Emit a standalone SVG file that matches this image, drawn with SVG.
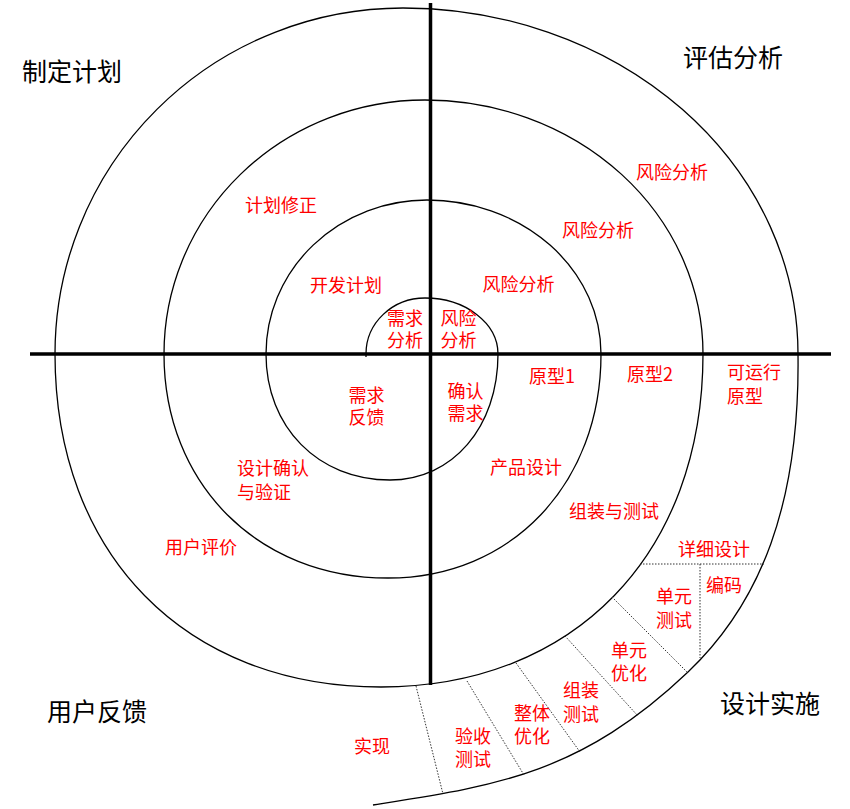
<svg xmlns="http://www.w3.org/2000/svg" width="850" height="809" viewBox="0 0 850 809">
<style>
.r{font-family:"Noto Sans CJK SC","Noto Sans",sans-serif;font-size:18px;fill:#ff0000;text-anchor:middle}
.rl{text-anchor:start}
.b{font-family:"Noto Sans CJK SC","Noto Sans",sans-serif;font-size:25px;fill:#000;text-anchor:middle}
.axis{stroke:#000;stroke-width:3.5;fill:none}
.sp{stroke:#000;stroke-width:1.3;fill:none}
.dot{stroke:#333;stroke-width:1;stroke-dasharray:1.5 1.5;fill:none}
</style>
<rect width="850" height="809" fill="#fff"/>
<g id="connectors">
<path class="sp" d="M366,357 L366,354 A59,56 0 0 1 425,298 A73,56 0 0 1 498,354 C498,427 452.6,480 390,480 C318,480 266,427 266,354 A161,154 0 0 1 427,200 A174,154 0 0 1 601,354 C601,484 511.5,578 388,578 C258,578 164,484 164,354 A261,254 0 0 1 425,100 A278,254 0 0 1 703,354 C703,554 574,687 381,687 C185,687 55,554 55,354 A348,346 0 0 1 403,8 A395,346 0 0 1 798,354 C800,504 760.5,603.1 688,672 C579.25,775.35 493,786.2 373,805"/>
<line class="axis" x1="30" y1="354" x2="831" y2="354"/>
<line class="axis" x1="430.5" y1="3" x2="430.5" y2="685"/>
<line class="dot" x1="640" y1="564" x2="764" y2="564"/>
<line class="dot" x1="700" y1="564" x2="700" y2="658"/>
<line class="dot" x1="612" y1="597" x2="688" y2="673"/>
<line class="dot" x1="565" y1="636" x2="638" y2="716"/>
<line class="dot" x1="516" y1="663" x2="580" y2="752"/>
<line class="dot" x1="467" y1="681" x2="524" y2="775"/>
<line class="dot" x1="416" y1="686" x2="443" y2="794"/>
</g>
<g id="q-plan"><text class="b" x="72" y="81">制定计划</text></g>
<g id="q-eval"><text class="b" x="733" y="67">评估分析</text></g>
<g id="q-feedback"><text class="b" x="97" y="721">用户反馈</text></g>
<g id="q-impl"><text class="b" x="770" y="713">设计实施</text></g>
<g id="risk3"><text class="r" x="672" y="179">风险分析</text></g>
<g id="plan-fix"><text class="r" x="281" y="212">计划修正</text></g>
<g id="risk2"><text class="r" x="598" y="237">风险分析</text></g>
<g id="dev-plan"><text class="r" x="346" y="292">开发计划</text></g>
<g id="risk1"><text class="r" x="518.5" y="291">风险分析</text></g>
<g id="req-analysis"><text class="r" x="405" y="325">需求</text><text class="r" x="405" y="347">分析</text></g>
<g id="risk0"><text class="r" x="458.5" y="325">风险</text><text class="r" x="458.5" y="347">分析</text></g>
<g id="req-feedback"><text class="r" x="366.5" y="401.5">需求</text><text class="r" x="366.5" y="423.5">反馈</text></g>
<g id="req-confirm"><text class="r" x="465.5" y="398">确认</text><text class="r" x="465.5" y="420">需求</text></g>
<g id="proto1"><text class="r" x="552" y="383">原型1</text></g>
<g id="proto2"><text class="r" x="650" y="381">原型2</text></g>
<g id="proto-run"><text class="r rl" x="727" y="379">可运行</text><text class="r rl" x="727" y="403">原型</text></g>
<g id="product-design"><text class="r" x="526" y="474">产品设计</text></g>
<g id="assemble-test"><text class="r" x="614" y="518">组装与测试</text></g>
<g id="design-verify"><text class="r rl" x="237" y="475">设计确认</text><text class="r rl" x="237" y="499">与验证</text></g>
<g id="user-eval"><text class="r" x="201" y="554">用户评价</text></g>
<g id="detail-design"><text class="r" x="714" y="556">详细设计</text></g>
<g id="coding"><text class="r" x="724" y="592">编码</text></g>
<g id="unit-test"><text class="r" x="674" y="603">单元</text><text class="r" x="674" y="627">测试</text></g>
<g id="unit-opt"><text class="r" x="629" y="657">单元</text><text class="r" x="629" y="680">优化</text></g>
<g id="asm-test"><text class="r" x="581" y="697">组装</text><text class="r" x="581" y="721">测试</text></g>
<g id="whole-opt"><text class="r" x="532" y="720">整体</text><text class="r" x="532" y="743">优化</text></g>
<g id="accept-test"><text class="r" x="473" y="743">验收</text><text class="r" x="473" y="766">测试</text></g>
<g id="realize"><text class="r" x="372" y="753">实现</text></g>
</svg>
